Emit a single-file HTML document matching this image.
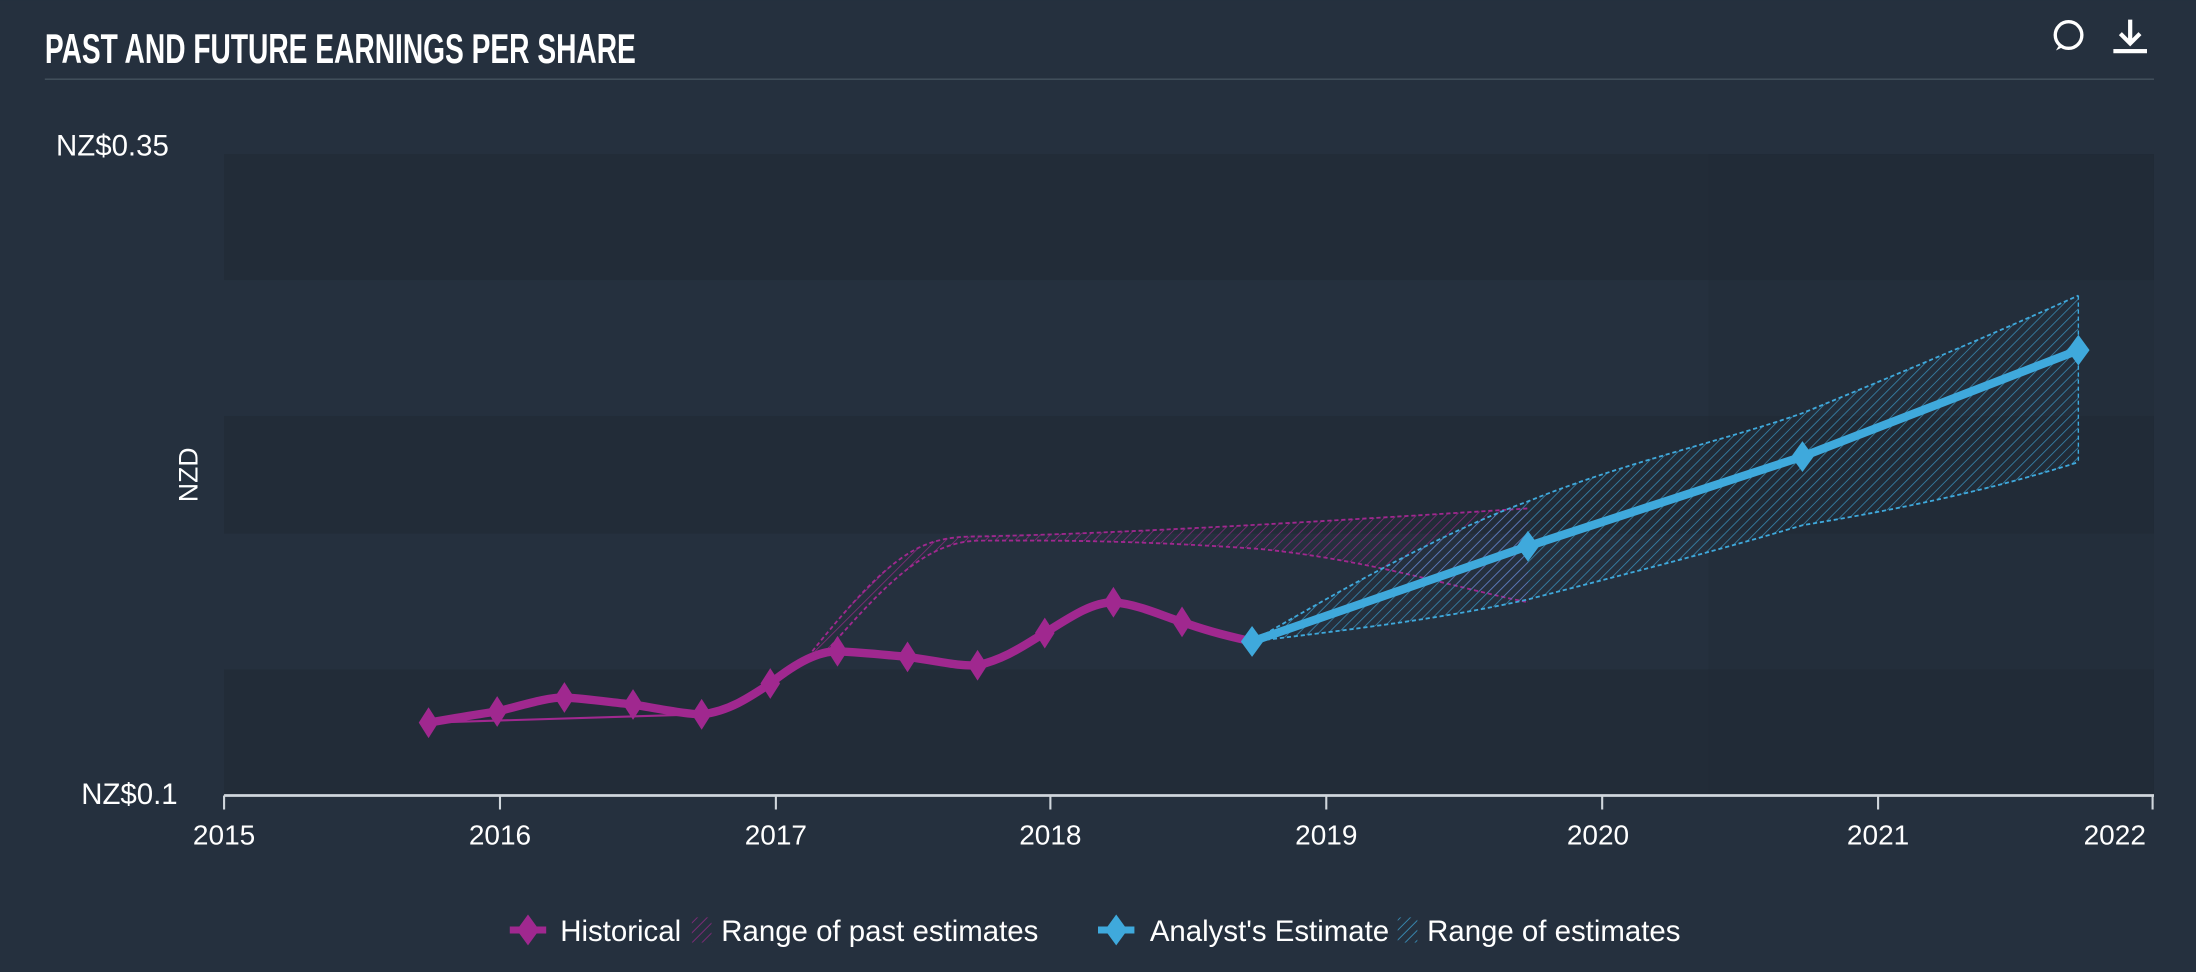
<!DOCTYPE html>
<html><head><meta charset="utf-8"><style>
html,body{margin:0;padding:0;background:#25303e;}
svg{display:block}
</style></head><body>
<svg width="2196" height="972" viewBox="0 0 1568 694" xmlns="http://www.w3.org/2000/svg" font-family="Liberation Sans, sans-serif">
<defs>
<pattern id="hb" patternUnits="userSpaceOnUse" width="5" height="5" patternTransform="rotate(45)"><line x1="0" y1="0" x2="0" y2="5" stroke="#3fa9dc" stroke-width="1.2" opacity="0.8"/></pattern>
<pattern id="hm" patternUnits="userSpaceOnUse" width="5" height="5" patternTransform="rotate(45)"><line x1="0" y1="0" x2="0" y2="5" stroke="#a0288f" stroke-width="1.2" opacity="0.8"/></pattern>
</defs>
<rect width="1568" height="694" fill="#25303e"/>
<!-- bands -->
<rect x="160" y="110" width="1378" height="90" fill="#222c38"/>
<rect x="160" y="297" width="1378" height="84" fill="#222c38"/>
<rect x="160" y="478" width="1378" height="90" fill="#222c38"/>
<rect x="1220" y="110" width="318" height="458" fill="#1f2833" opacity="0.25"/>
<!-- title -->
<text x="32" y="45" fill="#fff" font-weight="bold" font-size="30" transform="translate(32 0) scale(0.67 1) translate(-32 0)">PAST AND FUTURE EARNINGS PER SHARE</text>
<line x1="32" y1="56.5" x2="1538" y2="56.5" stroke="#45525f" stroke-width="1"/>
<!-- icons -->
<circle cx="1477" cy="25" r="9.5" fill="none" stroke="#fff" stroke-width="2.4"/>
<path d="M1468 36 L1471 31 L1474 33 Z" fill="#fff"/>
<path d="M1521 14 V30 M1514 24 L1521 31 L1528 24" stroke="#fff" stroke-width="3" fill="none"/>
<rect x="1509" y="35" width="24" height="3" fill="#fff"/>
<!-- axis labels -->
<g fill="#fff" font-size="21">
<text x="40" y="111">NZ$0.35</text>
<text x="58" y="574">NZ$0.1</text>
<text transform="translate(141 339) rotate(-90)" text-anchor="middle" font-size="19">NZD</text>
</g>
<line x1="160" y1="568" x2="1538" y2="568" stroke="#d0d6dc" stroke-width="2"/>
<g stroke="#d0d6dc" stroke-width="1.5">
<line x1="160" y1="568" x2="160" y2="578"/><line x1="357" y1="568" x2="357" y2="578"/><line x1="554" y1="568" x2="554" y2="578"/><line x1="750" y1="568" x2="750" y2="578"/><line x1="947" y1="568" x2="947" y2="578"/><line x1="1144" y1="568" x2="1144" y2="578"/><line x1="1341" y1="568" x2="1341" y2="578"/><line x1="1537" y1="568" x2="1537" y2="578"/>
</g>
<g fill="#fff" font-size="20" text-anchor="middle">
<text x="160" y="603">2015</text><text x="357" y="603">2016</text><text x="554" y="603">2017</text><text x="750" y="603">2018</text><text x="947" y="603">2019</text><text x="1141" y="603">2020</text><text x="1341" y="603">2021</text><text x="1510" y="603">2022</text>
</g>
<!-- past estimate range -->
<path d="M580 465 C640 390 660 383 700 383 C800 381 950 372 1091 363 L1091 430 C1040 420 980 400 900 392 C800 385 740 386 700 386 C660 386 630 420 590 465 Z" fill="url(#hm)" opacity="0.9"/>
<path d="M580 465 C640 390 660 383 700 383 C800 381 950 372 1091 363" fill="none" stroke="#a0288f" stroke-width="1.3" stroke-dasharray="3 2"/>
<path d="M590 465 C630 420 660 386 700 386 C740 386 800 385 900 392 C980 400 1040 420 1091 430" fill="none" stroke="#a0288f" stroke-width="1.3" stroke-dasharray="3 2"/>
<path d="M306 516 L501 510" stroke="#a0288f" stroke-width="1.5"/>
<!-- estimate range -->
<path d="M894 458 C960 420 1030 380 1091 358 C1160 330 1230 315 1287 295 C1360 265 1420 240 1484 211 L1484 330 C1420 350 1360 363 1287 375 C1220 395 1160 410 1091 428 C1030 442 960 450 894 458 Z" fill="url(#hb)" opacity="0.85"/>
<path d="M894 458 C960 420 1030 380 1091 358 C1160 330 1230 315 1287 295 C1360 265 1420 240 1484 211" fill="none" stroke="#3fa9dc" stroke-width="1.3" stroke-dasharray="3 2"/>
<path d="M894 458 C960 450 1030 442 1091 428 C1160 410 1220 395 1287 375 C1360 363 1420 350 1484 330" fill="none" stroke="#3fa9dc" stroke-width="1.3" stroke-dasharray="3 2"/>
<line x1="1484" y1="211" x2="1484" y2="330" stroke="#3fa9dc" stroke-width="1" stroke-dasharray="3 2"/>
<!-- historical -->
<path d="M306 516 C330 512 340 510 355 508 C375 503 390 498 403 498 C420 499 440 502 452 503 C470 506 490 510 501 510 C520 508 535 498 550 488 C570 472 585 465 598 465 C620 466 635 468 648 469 C670 472 685 476 698 475 C720 470 735 458 746 452 C765 440 780 430 795 430 C815 432 830 440 844 444 C860 450 880 455 894 458" fill="none" stroke="#a0288f" stroke-width="6"/>
<g fill="#a0288f">
<path d="M306 505 l7 11 l-7 11 l-7 -11z"/><path d="M355 497 l7 11 l-7 11 l-7 -11z"/><path d="M403 487 l7 11 l-7 11 l-7 -11z"/><path d="M452 492 l7 11 l-7 11 l-7 -11z"/><path d="M501 499 l7 11 l-7 11 l-7 -11z"/><path d="M550 477 l7 11 l-7 11 l-7 -11z"/><path d="M598 454 l7 11 l-7 11 l-7 -11z"/><path d="M648 458 l7 11 l-7 11 l-7 -11z"/><path d="M698 464 l7 11 l-7 11 l-7 -11z"/><path d="M746 441 l7 11 l-7 11 l-7 -11z"/><path d="M795 419 l7 11 l-7 11 l-7 -11z"/><path d="M844 433 l7 11 l-7 11 l-7 -11z"/>
</g>
<!-- estimate -->
<path d="M894 458 L1091 390 L1287 326 L1484 250" fill="none" stroke="#3fa9dc" stroke-width="6"/>
<g fill="#3fa9dc">
<path d="M894 447 l8 11 l-8 11 l-8 -11z"/><path d="M1091 379 l8 11 l-8 11 l-8 -11z"/><path d="M1287 315 l8 11 l-8 11 l-8 -11z"/><path d="M1484 239 l8 11 l-8 11 l-8 -11z"/>
</g>
<!-- legend -->
<g font-size="21" fill="#fff">
<line x1="364" y1="664" x2="390" y2="664" stroke="#a0288f" stroke-width="5"/>
<path d="M377 653 l8 11 l-8 11 l-8 -11z" fill="#a0288f"/>
<text x="400" y="672">Historical</text>
<rect x="494" y="655" width="14" height="18" fill="url(#hm)"/>
<text x="515" y="672">Range of past estimates</text>
<line x1="784" y1="664" x2="810" y2="664" stroke="#3fa9dc" stroke-width="5"/>
<path d="M797 653 l8 11 l-8 11 l-8 -11z" fill="#3fa9dc"/>
<text x="821" y="672">Analyst's Estimate</text>
<rect x="998" y="655" width="14" height="18" fill="url(#hb)"/>
<text x="1019" y="672">Range of estimates</text>
</g>
</svg>
</body></html>
